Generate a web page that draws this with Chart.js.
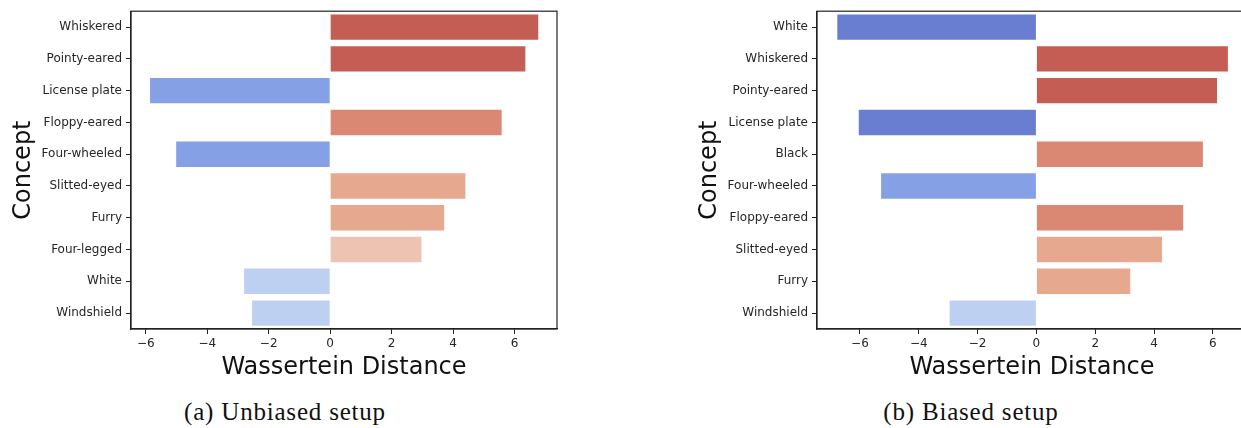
<!DOCTYPE html>
<html>
<head>
<meta charset="utf-8">
<script src="https://cdn.jsdelivr.net/npm/chart.js@4"></script>
<style>
  html, body { margin: 0; padding: 0; background: #fff; }
  body { width: 1241px; height: 428px; position: relative; overflow: hidden; }
  canvas { position: absolute; top: 0; }
  #chartA { left: 0; }
  #chartB { left: 686px; }
  .caption {
    position: absolute; top: 398px;
    font-family: "Liberation Serif", "DejaVu Serif", serif;
    font-size: 25px; letter-spacing: 0.8px; color: #111; white-space: nowrap;
    transform: translateX(-50%);
  }
</style>
</head>
<body>
<canvas id="chartA" width="620" height="385"></canvas>
<canvas id="chartB" width="624" height="385"></canvas>
<div class="caption" style="left:285px">(a) Unbiased setup</div>
<div class="caption" style="left:971px">(b) Biased setup</div>

<script>
// Unbiased setup
const conceptsA = ['Whiskered', 'Pointy-eared', 'License plate', 'Floppy-eared', 'Four-wheeled',
  'Slitted-eyed', 'Furry', 'Four-legged', 'White', 'Windshield'];
const distA = [6.77, 6.35, -5.86, 5.58, -5.01, 4.40, 3.71, 2.97, -2.80, -2.54];
const colorsA = ['#c45d53', '#c45d53', '#85a0e4', '#da8873', '#85a0e4',
  '#e7a890', '#e7a890', '#ecc4b1', '#bdd0f2', '#bdd0f2'];

// Biased setup
const conceptsB = ['White', 'Whiskered', 'Pointy-eared', 'License plate', 'Black', 'Four-wheeled',
  'Floppy-eared', 'Slitted-eyed', 'Furry', 'Windshield'];
const distB = [-6.77, 6.51, 6.14, -6.04, 5.66, -5.28, 4.99, 4.27, 3.19, -2.95];
const colorsB = ['#6a7ed1', '#c45d53', '#c45d53', '#6a7ed1', '#da8873', '#85a0e4',
  '#da8873', '#e7a890', '#e7a890', '#bdd0f2'];

const xTicks = [-6, -4, -2, 0, 2, 4, 6];

// matplotlib-ish frame on all four sides
const framePlugin = {
  id: 'frame',
  afterDraw(chart) {
    const a = chart.chartArea, ctx = chart.ctx;
    ctx.save();
    ctx.strokeStyle = '#222';
    ctx.lineWidth = 1.2;
    ctx.strokeRect(a.left, a.top, a.right - a.left, a.bottom - a.top);
    ctx.restore();
  }
};

function makeChart(id, labels, values, colors, xMin, xMax) {
  const tickFont = { family: 'DejaVu Sans', size: 12 };
  const titleFont = { family: 'DejaVu Sans', size: 24 };
  return new Chart(document.getElementById(id), {
    type: 'bar',
    data: {
      labels: labels,
      datasets: [{
        data: values,
        backgroundColor: colors,
        borderWidth: 0,
        categoryPercentage: 0.8,
        barPercentage: 1.0
      }]
    },
    options: {
      indexAxis: 'y',
      responsive: false,
      animation: false,
      layout: { padding: { top: 10, right: 63, left: 0, bottom: 0 } },
      plugins: { legend: { display: false }, tooltip: { enabled: false } },
      scales: {
        x: {
          min: xMin,
          max: xMax,
          afterBuildTicks: s => { s.ticks = xTicks.map(v => ({ value: v })); },
          afterFit: s => { s.height = 56; },
          grid: { drawOnChartArea: false, drawTicks: true, tickLength: 5, color: '#222' },
          border: { display: true, color: '#222', width: 1.2 },
          ticks: {
            font: tickFont, color: '#262626', padding: 3,
            callback: v => (v < 0 ? '\u2212' + Math.abs(v) : String(v))
          },
          title: {
            display: true, text: 'Wassertein Distance', font: titleFont, color: '#111',
            padding: { top: 0, bottom: 3 }
          }
        },
        y: {
          afterFit: s => { s.width = 131; },
          grid: { offset: false, drawOnChartArea: false, drawTicks: true, tickLength: 5, color: '#222' },
          border: { display: true, color: '#222', width: 1.2 },
          ticks: { font: tickFont, color: '#262626', padding: 4 },
          title: {
            display: true, text: 'Concept', font: titleFont, color: '#111',
            padding: { top: 9, bottom: 0 }
          }
        }
      }
    },
    plugins: [framePlugin]
  });
}

makeChart('chartA', conceptsA, distA, colorsA, -6.48, 7.38);
makeChart('chartB', conceptsB, distB, colorsB, -7.46, 7.16);
</script>
</body>
</html>
